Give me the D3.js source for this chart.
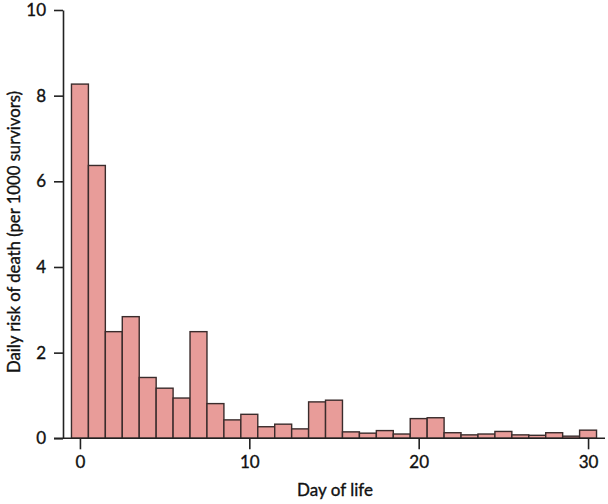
<!DOCTYPE html>
<html>
<head>
<meta charset="utf-8">
<script src="https://cdn.jsdelivr.net/npm/d3@7"></script>
<style>
  body { margin: 0; background: #fff; }
  svg text { font-family: Lato, "Open Sans", sans-serif; fill: #111; stroke: #111; stroke-width: 0.35px; }
</style>
</head>
<body>
<svg id="drawing_region"></svg>
<script>
// day of life 0..30
const days = d3.range(0, 31);
const risk = [8.27, 6.37, 2.49, 2.84, 1.42, 1.17, 0.94, 2.49, 0.81, 0.43,
              0.56, 0.27, 0.33, 0.22, 0.85, 0.89, 0.15, 0.12, 0.18, 0.10,
              0.46, 0.48, 0.13, 0.08, 0.10, 0.16, 0.08, 0.07, 0.13, 0.05,
              0.19];
const xTicks = [0, 10, 20, 30];
const yTicks = [0, 2, 4, 6, 8, 10];

const width = 608, height = 504;
const margin = { top: 10, right: 4, bottom: 66, left: 63 };

const svg = d3.select('#drawing_region')
    .attr('width', width)
    .attr('height', height);

const x = d3.scaleLinear()
    .domain([-1, 31])
    .range([margin.left, 605]);

const y = d3.scaleLinear()
    .domain([0, 10])
    .range([438.3, margin.top]);

const data = days.map((d, i) => ({ day: d, value: risk[i] }));

// bars
svg.append('g')
    .selectAll('rect')
    .data(data)
    .enter()
    .append('rect')
    .attr('x', d => x(d.day - 0.5))
    .attr('width', d => x(d.day + 0.5) - x(d.day - 0.5))
    .attr('y', d => y(d.value))
    .attr('height', d => y(0) - y(d.value))
    .attr('fill', '#e89c99')
    .attr('stroke', '#3a2c2c')
    .style('stroke-width', '1.4px');

// y axis
const yAxis = svg.append('g')
    .attr('transform', `translate(${margin.left},0)`)
    .call(d3.axisLeft(y).tickValues(yTicks).tickSize(9).tickPadding(8).tickSizeOuter(0));

// x axis
const xAxis = svg.append('g')
    .attr('transform', `translate(0,${y(0)})`)
    .call(d3.axisBottom(x).tickValues(xTicks).tickSize(11).tickPadding(7).tickSizeOuter(0));

[yAxis, xAxis].forEach(a => {
    a.select('.domain').attr('stroke', '#222').style('stroke-width', '1.6px');
    a.selectAll('.tick line').attr('stroke', '#222').style('stroke-width', '1.6px');
    a.selectAll('.tick text')
        .style('font-size', '17px')
        .style('font-family', 'Lato, "Open Sans", sans-serif')
        .attr('fill', '#111');
});

// x axis line reaches y axis
xAxis.select('.domain').attr('d', `M${margin.left - 9},0H605`);

// axis titles
svg.append('text')
    .attr('x', 335)
    .attr('y', 496)
    .attr('text-anchor', 'middle')
    .style('font-size', '17px')
    .text('Day of life');

svg.append('text')
    .attr('transform', 'translate(20,232) rotate(-90)')
    .attr('text-anchor', 'middle')
    .style('font-size', '16.7px')
    .text('Daily risk of death (per 1000 survivors)');
</script>
</body>
</html>
